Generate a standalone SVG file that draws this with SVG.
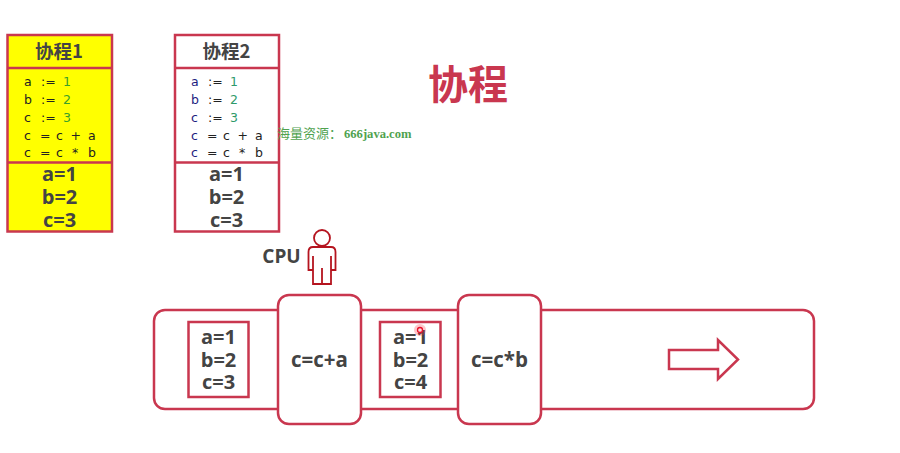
<svg xmlns="http://www.w3.org/2000/svg" width="900" height="453" viewBox="0 0 900 453">
<style>
.b{fill:none;stroke:#c9374f;stroke-width:2.5}
.w{fill:#fff;stroke:#c9374f;stroke-width:2.5}
.y{fill:#ff0;stroke:#c9374f;stroke-width:2.5}
.t{font-family:"Open Sans","Noto Sans CJK SC",sans-serif;font-weight:700;fill:#444;text-anchor:middle}
.h{font-family:"Noto Sans CJK SC",sans-serif;font-weight:700;font-size:18.500px;fill:#444;text-anchor:middle}
.v{font-size:20px}
.c{font-family:"DejaVu Sans",sans-serif;font-size:12.500px;fill:#222}
.n{fill:#1d1d80}.g{fill:#2e9a6a}.g2{fill:#3aa02a}
</style>
<rect width="900" height="453" fill="#fff"/>
<g id="coroutine1">
<rect class="y" x="7.500" y="35" width="104.500" height="196.500"/>
<path class="b" d="M7.500 68H112M7.500 162.500H112"/>
<text class="h" x="59" y="57.500">协程1</text>
<text class="c" y="86"><tspan x="24">a</tspan><tspan x="41">:=</tspan><tspan x="63" class="g2">1</tspan></text>
<text class="c" y="104"><tspan x="24">b</tspan><tspan x="41">:=</tspan><tspan x="63" class="g2">2</tspan></text>
<text class="c" y="121.500"><tspan x="24">c</tspan><tspan x="41">:=</tspan><tspan x="63" class="g2">3</tspan></text>
<text class="c" y="139.500"><tspan x="24">c</tspan><tspan x="40">=</tspan><tspan x="56">c</tspan><tspan x="70.500">+</tspan><tspan x="88">a</tspan></text>
<text class="c" y="157"><tspan x="24">c</tspan><tspan x="40">=</tspan><tspan x="56">c</tspan><tspan x="72">*</tspan><tspan x="88">b</tspan></text>
<text class="t v" x="59.500" y="181">a=1</text>
<text class="t v" x="59.500" y="204">b=2</text>
<text class="t v" x="59.500" y="226.500">c=3</text>
</g>
<g id="coroutine2">
<rect class="w" x="175" y="35" width="104" height="196.500"/>
<path class="b" d="M175 68H279M175 162.500H279"/>
<text class="h" x="226.500" y="57.500">协程2</text>
<text class="c" y="86"><tspan x="191" class="n">a</tspan><tspan x="208">:=</tspan><tspan x="230" class="g">1</tspan></text>
<text class="c" y="104"><tspan x="191" class="n">b</tspan><tspan x="208">:=</tspan><tspan x="230" class="g">2</tspan></text>
<text class="c" y="121.500"><tspan x="191" class="n">c</tspan><tspan x="208">:=</tspan><tspan x="230" class="g">3</tspan></text>
<text class="c" y="139.500"><tspan x="191" class="n">c</tspan><tspan x="207">=</tspan><tspan x="223">c</tspan><tspan x="237.500">+</tspan><tspan x="255">a</tspan></text>
<text class="c" y="157"><tspan x="191" class="n">c</tspan><tspan x="207">=</tspan><tspan x="223">c</tspan><tspan x="239">*</tspan><tspan x="255">b</tspan></text>
<text class="t v" x="226.500" y="181">a=1</text>
<text class="t v" x="226.500" y="204">b=2</text>
<text class="t v" x="226.500" y="226.500">c=3</text>
</g>
<text x="468" y="99" font-family="Noto Sans CJK SC,sans-serif" font-weight="700" font-size="40" fill="#c9374f" text-anchor="middle">协程</text>
<text x="277" y="138" font-family="Noto Sans CJK SC,sans-serif" font-size="13" fill="#4fa24f">海量资源：<tspan x="344" font-family="Liberation Serif,serif" font-weight="700" font-size="12.600">666java.com</tspan></text>
<g id="cpu">
<text class="t" x="281.500" y="262.500" font-size="19">CPU</text>
<g fill="none" stroke="#b5141f" stroke-width="1.800">
<circle cx="322" cy="238" r="8"/>
<path d="M313 247H331Q335.500 247 335.500 252V270H331V284H313V270H308.500V252Q308.500 247 313 247ZM313 256V270M331 256V270M322 268V284"/>
</g>
</g>
<g id="thread">
<rect class="w" x="154" y="310" width="660" height="99" rx="11"/>
<path class="w" d="M669 350H718V340L738 359.500L718 379V369H669Z" stroke-width="2"/>
</g>
<g id="state1">
<rect class="b" x="188.500" y="322" width="60" height="75"/>
<text class="t v" x="218.500" y="343.500">a=1</text>
<text class="t v" x="218.500" y="366.500">b=2</text>
<text class="t v" x="218.500" y="389">c=3</text>
</g>
<g id="op1">
<rect class="w" x="278" y="295" width="83" height="129" rx="11"/>
<text class="t" x="319.500" y="367" font-size="20.500">c=c+a</text>
</g>
<g id="state2">
<rect class="b" x="380" y="322" width="60.500" height="75"/>
<text class="t v" x="410.500" y="343.500">a=1</text>
<text class="t v" x="410.500" y="366.500">b=2</text>
<text class="t v" x="410.500" y="389">c=4</text>
</g>
<g id="op2">
<rect class="w" x="458" y="295" width="83" height="129" rx="11"/>
<text class="t" x="499.500" y="367" font-size="20.500">c=c*b</text>
</g>
<g id="pointer">
<circle cx="420" cy="330" r="6" fill="#ff3040" fill-opacity=".28"/>
<circle cx="420" cy="330" r="2.500" fill="#ffd8dc" stroke="#e8102a" stroke-width="1.300"/>
</g>
</svg>
